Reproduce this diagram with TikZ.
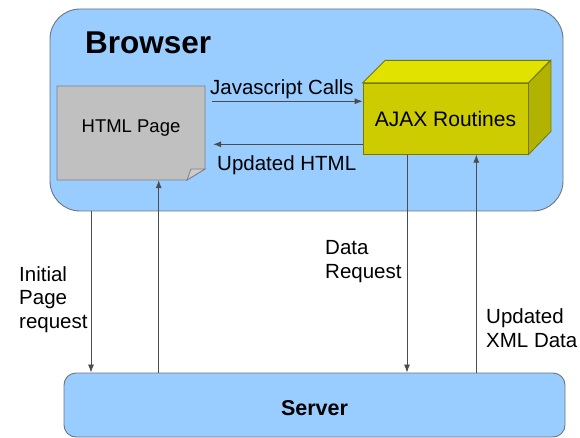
\documentclass[tikz,border=0pt]{standalone}
\usepackage{fontspec}
\setmainfont{Liberation Sans}
\usetikzlibrary{arrows.meta}
\definecolor{boxblue}{RGB}{153,204,255}
\definecolor{edgegray}{RGB}{110,116,126}
\definecolor{pagegray}{RGB}{192,192,192}
\definecolor{foldgray}{RGB}{204,204,204}
\definecolor{ajaxfront}{RGB}{204,204,0}
\definecolor{ajaxtop}{RGB}{226,226,0}
\definecolor{ajaxside}{RGB}{178,178,0}
\definecolor{ajaxedge}{RGB}{120,120,0}
\tikzset{
	area/.style={fill=boxblue,draw=edgegray,line width=0.9pt},
	page/.style={fill=pagegray,draw=black!50,line width=0.8pt},
	fold/.style={fill=foldgray,draw=black!50,line width=0.8pt},
	cube/.style={draw=ajaxedge,line width=0.8pt},
	lbl/.style={inner sep=0pt,font=\fontsize{20.5}{23.5}\selectfont,align=left},
	link/.style={draw=black!70,line width=0.8pt},
	>={Latex[length=8pt,width=6pt]},
	}

\begin{document}
\begin{tikzpicture}[x=1pt,y=-1pt]
\useasboundingbox (0,0) rectangle (580,438);

% boxes
\node (browser) at (306.5,110) [area,rounded corners=30pt,minimum width=513pt,minimum height=202pt] {};
\node (server) at (314.5,405) [area,rounded corners=12pt,minimum width=501pt,minimum height=64pt,
  text height=20pt,text depth=0pt,font=\bfseries\fontsize{21.5}{24}\selectfont] {Server};
\node (title) at (85,54) [anchor=base west,inner sep=0pt,font=\bfseries\fontsize{31.5}{36}\selectfont] {Browser};

% html page with folded corner
\draw[page] (57,86) -- (205,86) -- (205,169) -- (187,180) -- (57,180) -- cycle;
\draw[fold] (187,180) -- (191,169) -- (205,169) -- cycle;
\node (html) at (131,133) [minimum width=148pt,minimum height=94pt,inner sep=0pt,
  text height=6pt,text depth=6pt,font=\fontsize{18.5}{22}\selectfont] {HTML Page};

% ajax cube
\node (ajax) at (445.5,118.8) [cube,fill=ajaxfront,minimum width=165pt,minimum height=71pt,inner sep=0pt,
  text height=15pt,text depth=0pt,font=\fontsize{21}{24}\selectfont] {AJAX Routines};
\draw[cube,fill=ajaxtop] (ajax.north west) -- ++(22.5,-22.5) -- ++(165,0) -- (ajax.north east) -- cycle;
\draw[cube,fill=ajaxside] (ajax.north east) -- ++(22.5,-22.5) -- ++(0,71) -- (ajax.south east) -- cycle;

% calls between page and routines
\coordinate (jsr) at ([yshift=17.5pt]ajax.west);
\coordinate (uhr) at ([yshift=-25.5pt]ajax.west);
\draw[link,->,shorten <=7pt] (jsr -| html.east) -- (jsr);
\draw[link,->,shorten >=8pt] (uhr) -- (uhr -| html.east);
\node (js) at (210,95) [lbl,anchor=base west] {Javascript Calls};
\node (upd) at (217,171) [lbl,anchor=base west] {Updated HTML};

% browser <-> server
\draw[link,->] (browser.south -| 91,0) -- (server.north -| 91,0);
\draw[link,->] (server.north -| 158.7,0) -- (html.south -| 158.7,0);
\draw[link,->] (ajax.south -| 407,0) -- (server.north -| 407,0);
\draw[link,->] (server.north -| 476.3,0) -- (ajax.south -| 476.3,0);
\node (ipr) at (19,328) [lbl,anchor=base west] {Initial\\Page\\request};
\node (dreq) at (325,278) [lbl,anchor=base west] {Data\\Request};
\node (uxml) at (486,347) [lbl,anchor=base west] {Updated\\XML Data};
\end{tikzpicture}
\end{document}
